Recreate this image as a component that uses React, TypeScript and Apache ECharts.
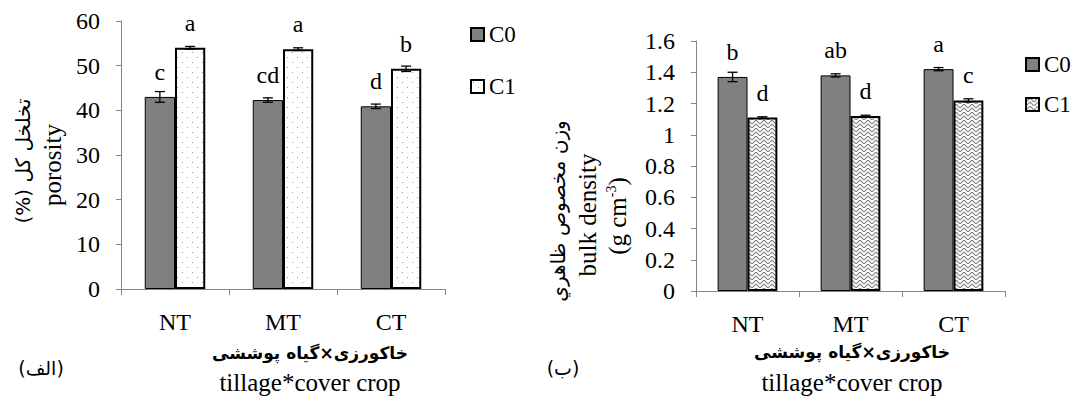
import React, { useEffect, useRef } from "react";
import * as echarts from "echarts";

// ---------- data ----------
const categories = ["NT", "MT", "CT"];
const seriesNames = ["C0", "C1"];

// (الف) porosity (%)
const porosityC0 = [43.0, 42.3, 40.9];
const porosityC1 = [54.0, 53.7, 49.3];
const porosityErrC0 = [1.2, 0.5, 0.5];
const porosityErrC1 = [0.3, 0.3, 0.6];
const porosityLettersC0 = ["c", "cd", "d"];
const porosityLettersC1 = ["a", "a", "b"];
const porosityAxis = [0, 60, 10]; // min, max, interval

// (ب) bulk density (g cm-3)
const densityC0 = [1.37, 1.38, 1.42];
const densityC1 = [1.11, 1.12, 1.22];
const densityErrC0 = [0.03, 0.01, 0.01];
const densityErrC1 = [0.005, 0.005, 0.01];
const densityLettersC0 = ["b", "ab", "a"];
const densityLettersC1 = ["d", "d", "c"];
const densityAxis = [0, 1.6, 0.2];

const SERIF = "Liberation Serif";
const PERSIAN = "DejaVu Sans";

function dotPattern() {
  const c = document.createElement("canvas");
  c.width = 10;
  c.height = 10;
  const g = c.getContext("2d")!;
  g.fillStyle = "#ffffff";
  g.fillRect(0, 0, 10, 10);
  g.fillStyle = "#9a9a9a";
  g.fillRect(2, 2, 1, 1);
  g.fillRect(7, 7, 1, 1);
  return c;
}

function weavePattern() {
  const c = document.createElement("canvas");
  c.width = 8;
  c.height = 8;
  const g = c.getContext("2d")!;
  g.fillStyle = "#ffffff";
  g.fillRect(0, 0, 8, 8);
  g.strokeStyle = "#8a8a8a";
  g.lineWidth = 1.2;
  for (const oy of [0, 4]) {
    g.beginPath();
    g.moveTo(0, oy + 4);
    g.lineTo(4, oy);
    g.lineTo(8, oy + 4);
    g.stroke();
  }
  return c;
}

type Cfg = {
  c0: number[];
  c1: number[];
  e0: number[];
  e1: number[];
  l0: string[];
  l1: string[];
  axis: number[];
  grid: { left: number; top: number; width: number; height: number };
  barFrac: number;
  pattern: HTMLCanvasElement;
  legend: { left: number; top: number; gap: number };
  graphic: any[];
};

function errSeries(vals: number[], errs: number[], sign: number, barFrac: number) {
  return {
    type: "custom",
    name: "err" + sign,
    z: 10,
    silent: true,
    encode: { x: 0, y: [1, 2] },
    data: vals.map((v, i) => [i, v - errs[i], v + errs[i]]),
    renderItem: (_p: any, api: any) => {
      const lo = api.coord([api.value(0), api.value(1)]);
      const hi = api.coord([api.value(0), api.value(2)]);
      const band = api.size([1, 0])[0];
      const x = lo[0] + (sign * band * barFrac) / 2;
      const cap = 5;
      const st = { stroke: "#000", lineWidth: 1.3 };
      return {
        type: "group",
        children: [
          { type: "line", shape: { x1: x, y1: lo[1], x2: x, y2: hi[1] }, style: st },
          { type: "line", shape: { x1: x - cap, y1: lo[1], x2: x + cap, y2: lo[1] }, style: st },
          { type: "line", shape: { x1: x - cap, y1: hi[1], x2: x + cap, y2: hi[1] }, style: st },
        ],
      };
    },
  };
}

function makeOption(cfg: Cfg) {
  const labelStyle = (letters: string[]) => ({
    show: true,
    position: "top",
    distance: 13,
    formatter: (p: any) => letters[p.dataIndex],
    fontSize: 24,
    fontFamily: SERIF,
    color: "#000",
  });
  return {
    animation: false,
    textStyle: { fontFamily: SERIF },
    grid: { ...cfg.grid, containLabel: false },
    legend: {
      data: seriesNames,
      orient: "vertical",
      left: cfg.legend.left,
      top: cfg.legend.top,
      itemWidth: 13,
      itemHeight: 13,
      itemGap: cfg.legend.gap,
      icon: "rect",
      textStyle: { fontSize: 23, fontFamily: SERIF, color: "#000" },
      selectedMode: false,
    },
    xAxis: {
      type: "category",
      data: categories,
      axisLine: { lineStyle: { color: "#868686", width: 1 } },
      axisTick: { show: true, length: 6, lineStyle: { color: "#868686" } },
      axisLabel: { fontSize: 24, fontFamily: SERIF, color: "#000", margin: 21 },
    },
    yAxis: {
      type: "value",
      min: cfg.axis[0],
      max: cfg.axis[1],
      interval: cfg.axis[2],
      splitLine: { show: false },
      axisLine: { show: true, lineStyle: { color: "#868686", width: 1 } },
      axisTick: { show: true, length: 5, lineStyle: { color: "#868686" } },
      axisLabel: { fontSize: 24, fontFamily: SERIF, color: "#000", margin: 21 },
    },
    series: [
      {
        type: "bar",
        name: seriesNames[0],
        data: cfg.c0,
        barWidth: cfg.barFrac * 100 + "%",
        barGap: "0%",
        itemStyle: { color: "#808080", borderColor: "#000", borderWidth: 1 },
        label: labelStyle(cfg.l0),
      },
      {
        type: "bar",
        name: seriesNames[1],
        data: cfg.c1,
        barWidth: cfg.barFrac * 100 + "%",
        barGap: "0%",
        itemStyle: {
          color: { image: cfg.pattern, repeat: "repeat", imageWidth: cfg.pattern.width, imageHeight: cfg.pattern.height },
          borderColor: "#000",
          borderWidth: 2,
        },
        label: labelStyle(cfg.l1),
      },
      errSeries(cfg.c0, cfg.e0, -1, cfg.barFrac),
      errSeries(cfg.c1, cfg.e1, 1, cfg.barFrac),
    ],
    graphic: cfg.graphic,
  };
}

function txt(text: string, x: number, y: number, fontSize: number, family: string, extra: any = {}) {
  return {
    type: "text",
    x,
    y,
    rotation: extra.rotation || 0,
    silent: true,
    style: {
      text,
      fontSize,
      fontFamily: family,
      fontWeight: extra.bold ? "bold" : "normal",
      fill: "#000",
      textAlign: "center",
      textVerticalAlign: "middle",
      rich: extra.rich,
    },
  };
}

export default function App() {
  const leftRef = useRef<HTMLDivElement>(null);
  const rightRef = useRef<HTMLDivElement>(null);

  useEffect(() => {
    const left = echarts.init(leftRef.current!, undefined, { renderer: "svg" });
    const right = echarts.init(rightRef.current!, undefined, { renderer: "svg" });
    const R = Math.PI / 2;

    left.setOption(
      makeOption({
        c0: porosityC0,
        c1: porosityC1,
        e0: porosityErrC0,
        e1: porosityErrC1,
        l0: porosityLettersC0,
        l1: porosityLettersC1,
        axis: porosityAxis,
        grid: { left: 121, top: 21, width: 324, height: 268 },
        barFrac: 0.28,
        pattern: dotPattern(),
        legend: { left: 465, top: 18, gap: 29 },
        graphic: [
          txt("(%) تخلخل کل", 23, 161, 20, PERSIAN, { rotation: R }),
          txt("porosity", 52, 165, 25, SERIF, { rotation: R }),
          txt("خاکورزی×گیاه پوششی", 310, 353, 17, PERSIAN, { bold: true }),
          txt("tillage*cover crop", 310, 382, 25, SERIF),
          txt("(الف)", 41, 368, 19, PERSIAN),
        ],
      }) as any
    );

    right.setOption(
      makeOption({
        c0: densityC0,
        c1: densityC1,
        e0: densityErrC0,
        e1: densityErrC1,
        l0: densityLettersC0,
        l1: densityLettersC1,
        axis: densityAxis,
        grid: { left: 160, top: 41, width: 309, height: 250 },
        barFrac: 0.29,
        pattern: weavePattern(),
        legend: { left: 484, top: 48, gap: 17 },
        graphic: [
          txt("وزن مخصوص ظاهري", 22, 211, 20, PERSIAN, { rotation: R }),
          txt("bulk density", 51, 215, 25, SERIF, { rotation: R }),
          txt("(g cm{sup|-3})", 81, 216, 25, SERIF, {
            rotation: R,
            rich: { sup: { fontSize: 14, fontFamily: SERIF, verticalAlign: "top", fill: "#000" } },
          }),
          txt("خاکورزی×گیاه پوششی", 316, 352, 17, PERSIAN, { bold: true }),
          txt("tillage*cover crop", 316, 382, 25, SERIF),
          txt("(ب)", 27, 368, 19, PERSIAN),
        ],
      }) as any
    );

    return () => {
      left.dispose();
      right.dispose();
    };
  }, []);

  return (
    <div style={{ position: "absolute", left: 0, top: 0, width: 1072, height: 396, background: "#fff" }}>
      <div ref={leftRef} style={{ position: "absolute", left: 0, top: 0, width: 536, height: 396 }} />
      <div ref={rightRef} style={{ position: "absolute", left: 536, top: 0, width: 536, height: 396 }} />
    </div>
  );
}
